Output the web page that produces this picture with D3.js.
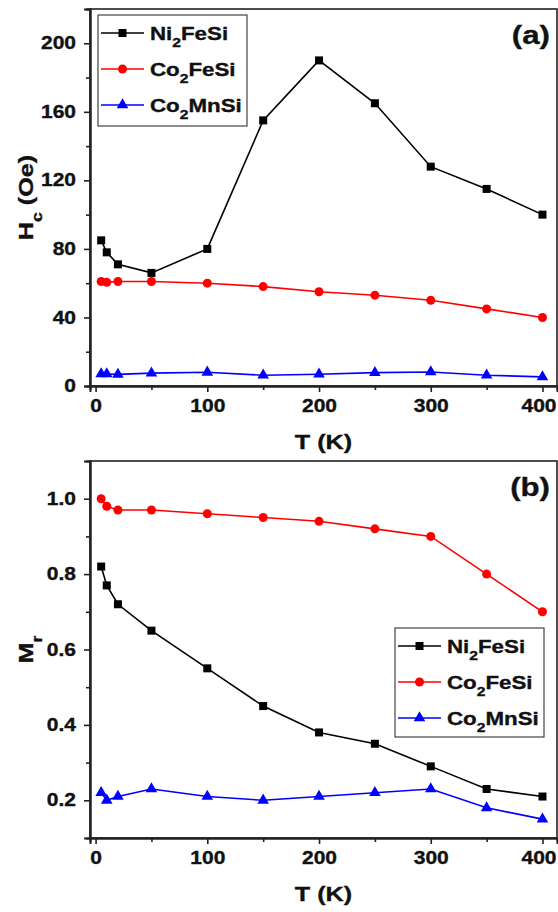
<!DOCTYPE html>
<html><head><meta charset="utf-8">
<script src="https://cdn.jsdelivr.net/npm/d3@7/dist/d3.min.js"></script>
<style>
body{margin:0;background:#fff;}
text{font-family:"Liberation Sans",Arial,sans-serif;font-weight:bold;fill:#111;stroke:#111;stroke-width:0.35px;}
</style></head>
<body><svg id="c" width="558" height="912"></svg>
<script>
const temps = [5, 10, 20, 50, 100, 150, 200, 250, 300, 350, 400];
const hcNi2FeSi = [85, 78, 71, 66, 80, 155, 190, 165, 128, 115, 100];
const hcCo2FeSi = [61, 60.5, 61, 61, 60, 58, 55, 53, 50, 45, 40];
const hcCo2MnSi = [7, 7, 6.8, 7.5, 8, 6.3, 6.9, 7.8, 8.2, 6.3, 5.3];
const mrNi2FeSi = [0.82, 0.77, 0.72, 0.65, 0.55, 0.45, 0.38, 0.35, 0.29, 0.23, 0.21];
const mrCo2FeSi = [1.0, 0.98, 0.97, 0.97, 0.96, 0.95, 0.94, 0.92, 0.90, 0.80, 0.70];
const mrCo2MnSi = [0.22, 0.20, 0.21, 0.23, 0.21, 0.20, 0.21, 0.22, 0.23, 0.18, 0.15];
const xTicks = [0, 100, 200, 300, 400];
const xMinor = [50, 150, 250, 350];
const hcTicks = [0, 40, 80, 120, 160, 200];
const hcMinor = [20, 60, 100, 140, 180, 220];
const mrTicks = [0.2, 0.4, 0.6, 0.8, 1.0];
const mrMinor = [0.3, 0.5, 0.7, 0.9];
const seriesNames = [["Ni","2","FeSi"],["Co","2","FeSi"],["Co","2","MnSi"]];
const colors = ["#000000", "#ff0000", "#0000ff"];
const markers = ["square", "circle", "triangle"];

const svg = d3.select("#c");
const L = 90, R = 557;
const SX = 1.2; // horizontal stretch of the glyphs

function richText(sel, parts, sz) {
  sel.append("tspan").text(parts[0]);
  sel.append("tspan").attr("font-size", sz*0.7).attr("dy", sz*0.42).text(parts[1]);
  if (parts[2]) sel.append("tspan").attr("dy", -sz*0.42).text(parts[2]);
}
function stretchedText(g, x, y, size, anchor, rot) {
  return g.append("text")
    .attr("transform", `translate(${x},${y})${rot ? " rotate(" + rot + ")" : ""} scale(${SX},1)`)
    .attr("text-anchor", anchor).attr("font-size", size);
}

function drawMarker(g, type, x, y, color) {
  if (type === "square") {
    g.append("rect").attr("x", x-4).attr("y", y-4).attr("width", 8).attr("height", 8).attr("fill", color);
  } else if (type === "circle") {
    g.append("circle").attr("cx", x).attr("cy", y).attr("r", 4.5).attr("fill", color);
  } else {
    const s = d3.symbol().type(d3.symbolTriangle).size(58);
    g.append("path").attr("d", s()).attr("transform", `translate(${x},${y})`).attr("fill", color);
  }
}

function panel(opts) {
  const {top, bottom, yDomain, yTicks, yMinorT, yFmt, series, label, yLabelParts, legend} = opts;
  const x = d3.scaleLinear().domain([-5, 413]).range([L, R]);
  const y = d3.scaleLinear().domain(yDomain).range([bottom, top]);
  const g = svg.append("g");

  series.forEach((vals, i) => {
    const line = d3.line().x((d, j) => x(temps[j])).y(d => y(d));
    g.append("path").datum(vals).attr("d", line).attr("fill", "none")
      .attr("stroke", colors[i]).attr("stroke-width", 1.6);
    vals.forEach((v, j) => drawMarker(g, markers[i], x(temps[j]), y(v), colors[i]));
  });

  g.append("rect").attr("x", L).attr("y", top).attr("width", R-L).attr("height", bottom-top)
    .attr("fill", "none").attr("stroke", "#222").attr("stroke-width", 1.6);

  g.append("g").attr("class", "xax").attr("transform", `translate(0,${bottom})`)
    .call(d3.axisBottom(x).tickValues(xTicks).tickSize(6).tickPadding(8).tickFormat(d3.format("d")));
  g.append("g").attr("transform", `translate(0,${bottom})`)
    .call(d3.axisBottom(x).tickValues(xMinor).tickSize(4).tickFormat(""));
  g.append("g").attr("class", "yax").attr("transform", `translate(${L},0)`)
    .call(d3.axisLeft(y).tickValues(yTicks).tickSize(6).tickPadding(8).tickFormat(yFmt));
  g.append("g").attr("transform", `translate(${L},0)`)
    .call(d3.axisLeft(y).tickValues(yMinorT).tickSize(4).tickFormat(""));
  g.selectAll(".domain").attr("stroke", "#222").attr("stroke-width", 2);
  g.selectAll(".tick line").attr("stroke", "#222").attr("stroke-width", 1.6);
  g.selectAll(".tick text").attr("font-size", 17.5).attr("font-family", "Liberation Sans, Arial, sans-serif")
    .attr("font-weight", "bold").attr("fill", "#111")
    .each(function(d) {
      const t = d3.select(this);
      let tx = +t.attr("x") || 0;
      const ty = +t.attr("y") || 0;
      if (d === 400) tx -= 4; // keep the last label inside the page edge
      t.attr("x", 0).attr("y", 0).attr("transform", `translate(${tx},${ty}) scale(${SX},1)`);
    });

  const xt = stretchedText(g, (L+R)/2, bottom + 63, 21, "middle");
  xt.text("T (K)");
  const yt = stretchedText(g, 33, (top+bottom)/2, 21, "middle", -90);
  richText(yt, yLabelParts, 21);

  stretchedText(g, R - 7, top + 35, 26, "end").text(label);

  const lg = g.append("g");
  lg.append("rect").attr("x", legend.x).attr("y", legend.y).attr("width", legend.w).attr("height", legend.h)
    .attr("fill", "#fff").attr("stroke", "#444").attr("stroke-width", 1.2);
  seriesNames.forEach((nm, i) => {
    const cy = legend.y + 18 + i * legend.step;
    lg.append("line").attr("x1", legend.x + 3).attr("x2", legend.x + 46).attr("y1", cy).attr("y2", cy)
      .attr("stroke", colors[i]).attr("stroke-width", 1.6);
    drawMarker(lg, markers[i], legend.x + 24.5, cy, colors[i]);
    const t = stretchedText(lg, legend.x + 52, cy + 6.5, 18.6, "start");
    richText(t, nm, 18.6);
  });
}

panel({top: 9, bottom: 386, yDomain: [0, 220], yTicks: hcTicks, yMinorT: hcMinor, yFmt: d3.format("d"),
  series: [hcNi2FeSi, hcCo2FeSi, hcCo2MnSi], label: "(a)", yLabelParts: ["H","c"," (Oe)"],
  legend: {x: 98, y: 15, w: 149, h: 111, step: 36}});
panel({top: 461, bottom: 838, yDomain: [0.1, 1.1], yTicks: mrTicks, yMinorT: mrMinor, yFmt: d3.format(".1f"),
  series: [mrNi2FeSi, mrCo2FeSi, mrCo2MnSi], label: "(b)", yLabelParts: ["M","r",""],
  legend: {x: 395, y: 628, w: 149, h: 109, step: 36}});
</script></body></html>
